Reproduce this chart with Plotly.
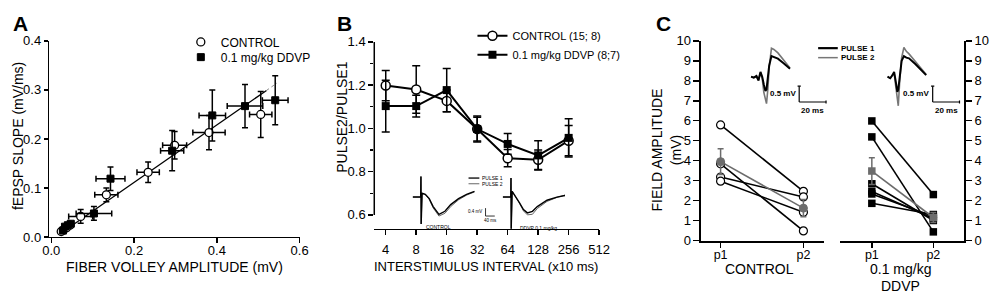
import math
import plotly.graph_objects as go

# ---------------- DATA ----------------
# Panel A : fEPSP slope vs fiber volley amplitude
A_CTRL_X = [0.024, 0.030, 0.037, 0.045, 0.071, 0.133, 0.234, 0.298, 0.381, 0.506]
A_CTRL_Y = [0.011, 0.015, 0.019, 0.024, 0.042, 0.086, 0.132, 0.187, 0.213, 0.250]
A_CTRL_XERR = [0.003, 0.004, 0.005, 0.006, 0.029, 0.028, 0.027, 0.029, 0.039, 0.027]
A_CTRL_YERR = [0.002, 0.003, 0.003, 0.004, 0.014, 0.014, 0.021, 0.028, 0.035, 0.047]
A_DDVP_X = [0.028, 0.033, 0.040, 0.047, 0.103, 0.143, 0.292, 0.389, 0.468, 0.541]
A_DDVP_Y = [0.013, 0.021, 0.024, 0.027, 0.048, 0.119, 0.176, 0.248, 0.267, 0.279]
A_DDVP_XERR = [0.003, 0.004, 0.005, 0.007, 0.043, 0.035, 0.028, 0.032, 0.043, 0.031]
A_DDVP_YERR = [0.002, 0.003, 0.004, 0.004, 0.014, 0.024, 0.041, 0.052, 0.044, 0.050]
A_FIT_X = [0.024, 0.520]          # solid part of the regression line
A_FIT_Y = [0.008, 0.299]
A_FIT_EXT_X = [0.520, 0.545]      # faint dashed end of the regression line
A_FIT_EXT_Y = [0.299, 0.314]
A_XTICKS = [0.0, 0.2, 0.4, 0.6]
A_YTICKS = [0.0, 0.1, 0.2, 0.3, 0.4]

# Panel B : paired-pulse ratio
B_ISI = [4, 8, 16, 32, 64, 128, 256]
B_CTRL = [1.198, 1.180, 1.127, 0.997, 0.862, 0.855, 0.943]
B_CTRL_ERR = [0.07, 0.11, 0.05, 0.055, 0.04, 0.045, 0.07]
B_DDVP = [1.103, 1.103, 1.177, 0.997, 0.928, 0.875, 0.956]
B_DDVP_ERR = [0.12, 0.05, 0.10, 0.06, 0.048, 0.068, 0.088]
B_XTICKS = [4, 8, 16, 32, 64, 128, 256, 512]
B_YTICKS = [0.6, 0.8, 1.0, 1.2, 1.4]
B_YMINOR = [0.7, 0.9, 1.1, 1.3]

# Panel B insets (time in ms, voltage in mV)
B_WAVE_CTRL_T = [0, 34, 35, 36, 40, 54, 71, 88, 113, 139, 164, 198, 233, 267]
B_WAVE_CTRL_P1 = [0, 0, 1.04, -1.36, 0.19, 0.14, -0.08, -0.48, -0.88, -0.72, -0.38, -0.08, 0.14, 0.29]
B_WAVE_CTRL_P2 = [0, 0, 1.04, -1.36, 0.19, 0.12, -0.12, -0.55, -0.96, -0.82, -0.48, -0.14, 0.10, 0.26]
B_WAVE_DDVP_T = [0, 34, 35, 36, 40, 57, 72, 89, 106, 128, 149, 191, 234, 269]
B_WAVE_DDVP_P1 = [0, 0, 0.96, -1.6, 0.29, 0, -0.29, -0.63, -0.80, -0.72, -0.48, -0.16, 0, 0.08]
B_WAVE_DDVP_P2 = [0, 0, 0.96, -1.6, 0.29, 0, -0.31, -0.70, -0.90, -0.87, -0.58, -0.22, -0.02, 0.10]
B_SCALE_MV = 0.4
B_SCALE_MS = 40

# Panel C : field amplitude p1 / p2
C_PULSES = ["p1", "p2"]
C_CTRL_SUBJ = [[5.79, 2.46], [3.84, 0.48], [3.18, 2.18], [2.97, 1.41]]
C_CTRL_MEAN = [3.95, 1.62]
C_CTRL_SEM = [0.64, 0.43]
C_DDVP_SUBJ = [[5.99, 2.30], [5.19, 0.43], [2.84, 1.00], [2.45, 1.10], [2.33, 1.20], [1.86, 1.30]]
C_DDVP_MEAN = [3.48, 1.15]
C_DDVP_SEM = [0.67, 0.25]
C_YTICKS = list(range(0, 11))

# Panel C insets (time in ms, voltage in mV)
C_WAVE_CTRL_T = [0, 2, 4, 5.5, 7, 8.3, 9.5, 10.7, 11.5, 12.5, 13.5, 15.2, 17, 20, 24, 29]
C_WAVE_CTRL_P1 = [0, -0.03, 0.02, -0.12, 0.15, 0.0, -0.25, -0.45, -0.40, -0.10, 0.35, 0.65, 0.62, 0.57, 0.43, 0.25]
C_WAVE_CTRL_P2 = [0, -0.03, 0.02, -0.12, 0.12, -0.05, -0.50, -0.78, -0.85, -0.40, 0.30, 0.90, 0.86, 0.75, 0.55, 0.27]
C_WAVE_DDVP_T = [0, 2, 3.7, 4.9, 6.1, 7.3, 8.0, 9.0, 10.5, 12.2, 14, 16, 20.7, 28.8]
C_WAVE_DDVP_P1 = [0, -0.05, 0.05, 0.15, -0.15, -0.48, -0.40, 0.0, 0.50, 0.65, 0.60, 0.58, 0.40, 0.05]
C_WAVE_DDVP_P2 = [0, -0.05, 0.05, 0.12, -0.30, -0.80, -0.92, -0.20, 0.60, 0.92, 0.80, 0.72, 0.48, 0.07]
C_SCALE_MV = 0.5
C_SCALE_MS = 20

# ---------------- STYLE / LAYOUT HELPERS ----------------
W, H = 1000, 302
FONT = "Liberation Sans, Arial, Helvetica, sans-serif"
GRAY = "#6c6c6c"


def fx(p):
    return p / W


def fy(p):
    return 1 - p / H


def axis_style(**kw):
    d = dict(showline=True, linecolor="black", linewidth=1.5, ticks="outside",
             ticklen=5, tickwidth=1.5, tickcolor="black", showgrid=False,
             zeroline=False, tickfont=dict(size=13, color="black", family=FONT),
             fixedrange=True)
    d.update(kw)
    return d


def hidden(domain, rng, anchor):
    return dict(visible=False, fixedrange=True, range=rng, domain=domain, anchor=anchor)


fig = go.Figure()

# ---------------- PANEL A ----------------
fig.add_trace(go.Scatter(x=A_FIT_X, y=A_FIT_Y, mode="lines",
                         line=dict(color="black", width=1.3),
                         showlegend=False, xaxis="x", yaxis="y", hoverinfo="skip"))
fig.add_trace(go.Scatter(x=A_FIT_EXT_X, y=A_FIT_EXT_Y, mode="lines",
                         line=dict(color="#888888", width=1, dash="dot"),
                         showlegend=False, xaxis="x", yaxis="y", hoverinfo="skip"))
fig.add_trace(go.Scatter(
    x=A_CTRL_X, y=A_CTRL_Y, mode="markers", name="CONTROL",
    marker=dict(symbol="circle", size=8, color="white", line=dict(color="black", width=1.3)),
    error_x=dict(type="data", array=A_CTRL_XERR, color="black", thickness=1.5, width=3),
    error_y=dict(type="data", array=A_CTRL_YERR, color="black", thickness=1.5, width=3),
    xaxis="x", yaxis="y", legend="legend", cliponaxis=False))
fig.add_trace(go.Scatter(
    x=A_DDVP_X, y=A_DDVP_Y, mode="markers", name="0.1 mg/kg DDVP",
    marker=dict(symbol="square", size=7, color="black", line=dict(color="black", width=1)),
    error_x=dict(type="data", array=A_DDVP_XERR, color="black", thickness=1.5, width=3),
    error_y=dict(type="data", array=A_DDVP_YERR, color="black", thickness=1.5, width=3),
    xaxis="x", yaxis="y", legend="legend3", cliponaxis=False))

# ---------------- PANEL B ----------------
fig.add_trace(go.Scatter(
    x=B_ISI, y=B_CTRL, mode="lines+markers", name="CONTROL (15; 8)",
    line=dict(color="black", width=2),
    marker=dict(symbol="circle", size=9, color="white", line=dict(color="black", width=1.5)),
    error_y=dict(type="data", array=B_CTRL_ERR, color="black", thickness=1.5, width=4),
    xaxis="x2", yaxis="y2", legend="legend2", cliponaxis=False))
fig.add_trace(go.Scatter(
    x=B_ISI, y=B_DDVP, mode="lines+markers", name="0.1 mg/kg DDVP (8;7)",
    line=dict(color="black", width=2),
    marker=dict(symbol="square", size=8, color="black"),
    error_y=dict(type="data", array=B_DDVP_ERR, color="black", thickness=1.5, width=4),
    xaxis="x2", yaxis="y2", legend="legend2", cliponaxis=False))

# B insets
for t, p1, p2, ax in [(B_WAVE_CTRL_T, B_WAVE_CTRL_P1, B_WAVE_CTRL_P2, "5"),
                      (B_WAVE_DDVP_T, B_WAVE_DDVP_P1, B_WAVE_DDVP_P2, "6")]:
    fig.add_trace(go.Scatter(x=t, y=p2, mode="lines", line=dict(color="#555555", width=0.9),
                             showlegend=False, xaxis="x" + ax, yaxis="y" + ax, hoverinfo="skip"))
    fig.add_trace(go.Scatter(x=t, y=p1, mode="lines", line=dict(color="black", width=1.4),
                             showlegend=False, xaxis="x" + ax, yaxis="y" + ax, hoverinfo="skip"))

# ---------------- PANEL C ----------------
for subj in C_CTRL_SUBJ:
    fig.add_trace(go.Scatter(
        x=C_PULSES, y=subj, mode="lines+markers", line=dict(color="black", width=1.6),
        marker=dict(symbol="circle", size=8, color="white", line=dict(color="black", width=1.2)),
        showlegend=False, xaxis="x3", yaxis="y3", cliponaxis=False))
fig.add_trace(go.Scatter(
    x=C_PULSES, y=C_CTRL_MEAN, mode="lines+markers", line=dict(color=GRAY, width=1.6),
    marker=dict(symbol="circle", size=8, color=GRAY, line=dict(color=GRAY, width=1)),
    error_y=dict(type="data", array=C_CTRL_SEM, color=GRAY, thickness=1.5, width=3),
    showlegend=False, xaxis="x3", yaxis="y3", cliponaxis=False))

for subj in C_DDVP_SUBJ:
    fig.add_trace(go.Scatter(
        x=C_PULSES, y=subj, mode="lines+markers", line=dict(color="black", width=1.6),
        marker=dict(symbol="square", size=7.5, color="black"),
        showlegend=False, xaxis="x4", yaxis="y4", cliponaxis=False))
fig.add_trace(go.Scatter(
    x=C_PULSES, y=C_DDVP_MEAN, mode="lines+markers", line=dict(color=GRAY, width=1.6),
    marker=dict(symbol="square", size=7.5, color=GRAY),
    error_y=dict(type="data", array=C_DDVP_SEM, color=GRAY, thickness=1.5, width=3),
    showlegend=False, xaxis="x4", yaxis="y4", cliponaxis=False))

# C insets
for t, p1, p2, ax in [(C_WAVE_CTRL_T, C_WAVE_CTRL_P1, C_WAVE_CTRL_P2, "7"),
                      (C_WAVE_DDVP_T, C_WAVE_DDVP_P1, C_WAVE_DDVP_P2, "8")]:
    fig.add_trace(go.Scatter(x=t, y=p2, mode="lines", line=dict(color="#777777", width=1.6),
                             showlegend=False, xaxis="x" + ax, yaxis="y" + ax, hoverinfo="skip"))
    fig.add_trace(go.Scatter(x=t, y=p1, mode="lines", line=dict(color="black", width=2),
                             showlegend=False, xaxis="x" + ax, yaxis="y" + ax, hoverinfo="skip"))

# ---------------- AXES ----------------
b_range = [math.log10(2 ** 1.624), math.log10(2 ** 9)]
c_tick = dict(size=12.5, color="black", family=FONT)
fig.update_layout(
    xaxis=axis_style(domain=[fx(43), fx(298)], range=[-0.005, 0.6], anchor="y",
                     tickvals=A_XTICKS, ticktext=[f"{v:.1f}" for v in A_XTICKS],
                     ticklabelstandoff=-4),
    yaxis=axis_style(domain=[fy(242), fy(35.7)], range=[0, 0.4], anchor="x", ticklen=4,
                     tickvals=A_YTICKS, ticktext=[f"{v:.1f}" for v in A_YTICKS]),
    xaxis2=axis_style(domain=[fx(374), fx(603)], type="log", range=b_range, anchor="y2",
                      tickvals=B_XTICKS, ticktext=[str(v) for v in B_XTICKS],
                      ticklabelstandoff=3),
    yaxis2=axis_style(domain=[fy(233.3), fy(36.7)], range=[0.536, 1.4], anchor="x2",
                      showline=False, tickvals=B_YTICKS,
                      ticktext=[f"{v:.1f}" for v in B_YTICKS],
                      minor=dict(tickmode="array", tickvals=B_YMINOR, ticks="outside",
                                 ticklen=3, tickwidth=1.2, tickcolor="black", showgrid=False)),
    xaxis3=axis_style(domain=[fx(706.7), fx(832)], type="category", range=[-0.237, 1.249],
                      anchor="y3", tickfont=c_tick, ticklabelstandoff=-4),
    yaxis3=axis_style(domain=[fy(246.7), fy(35.7)], range=[-0.05, 10], anchor="x3",
                      tickvals=C_YTICKS, ticklen=6),
    xaxis4=axis_style(domain=[fx(848), fx(975)], type="category", range=[-0.522, 1.506],
                      anchor="y4", tickfont=c_tick, ticklabelstandoff=-4),
    yaxis4=axis_style(domain=[fy(246.7), fy(35.7)], range=[-0.05, 10], anchor="x4",
                      side="right", tickvals=C_YTICKS, ticklen=6),
    # inset axes
    xaxis5=hidden([fx(405), fx(500)], [-35.3, 368.9], "y5"),
    yaxis5=hidden([fy(235), fy(175)], [-1.683, 1.202], "x5"),
    xaxis6=hidden([fx(500), fx(580)], [-21.3, 319.1], "y6"),
    yaxis6=hidden([fy(240), fy(175)], [-1.923, 1.202], "x6"),
    xaxis7=hidden([fx(750), fx(845)], [-5.63, 63.86], "y7"),
    yaxis7=hidden([fy(112), fy(35)], [-1.162, 1.150], "x7"),
    xaxis8=hidden([fx(890), fx(980)], [-4.9, 61.0], "y8"),
    yaxis8=hidden([fy(112), fy(35)], [-1.162, 1.150], "x8"),
)

# ---------------- SHAPES (axis line B, scale bars, mini legend keys) ----------------
shapes = []
shapes.append(dict(type="line", xref="x2 domain", yref="y2", x0=0, x1=0,
                   y0=B_YTICKS[0], y1=B_YTICKS[-1], line=dict(color="black", width=1.5)))


def scale_bar(ax, t0, v0, dmv, dms, capx, capy, w):
    xr, yr = "x" + ax, "y" + ax
    ln = dict(color="black", width=w)
    return [
        dict(type="line", xref=xr, yref=yr, x0=t0, x1=t0, y0=v0, y1=v0 + dmv, line=ln),
        dict(type="line", xref=xr, yref=yr, x0=t0, x1=t0 + dms, y0=v0, y1=v0, line=ln),
        dict(type="line", xref=xr, yref=yr, x0=t0 - capx, x1=t0 + capx, y0=v0 + dmv, y1=v0 + dmv, line=ln),
        dict(type="line", xref=xr, yref=yr, x0=t0 + dms, x1=t0 + dms, y0=v0 - capy, y1=v0 + capy, line=ln),
    ]


shapes += scale_bar("5", 314.9, -0.96, B_SCALE_MV, B_SCALE_MS, 0, 0, 0.8)
shapes += scale_bar("7", 35.85, -0.8, C_SCALE_MV, C_SCALE_MS, 1.2, 0.05, 1.2)
shapes += scale_bar("8", 33.65, -0.8, C_SCALE_MV, C_SCALE_MS, 1.2, 0.05, 1.2)

# legend keys for C traces and B inset traces
shapes.append(dict(type="line", xref="paper", yref="paper", x0=fx(826), x1=fx(846),
                   y0=fy(43.3), y1=fy(43.3), line=dict(color="black", width=2.2)))
shapes.append(dict(type="line", xref="paper", yref="paper", x0=fx(826), x1=fx(846),
                   y0=fy(53.3), y1=fy(53.3), line=dict(color="#777777", width=1.5)))
shapes.append(dict(type="line", xref="paper", yref="paper", x0=fx(470), x1=fx(481),
                   y0=fy(180), y1=fy(180), line=dict(color="black", width=1.3)))
shapes.append(dict(type="line", xref="paper", yref="paper", x0=fx(470), x1=fx(481),
                   y0=fy(186), y1=fy(186), line=dict(color="#555555", width=0.9)))


# ---------------- ANNOTATIONS ----------------
def ann(text, x, y, size, xanchor="center", yanchor="middle", angle=0, bold=False,
        color="black"):
    t = f"<b>{text}</b>" if bold else text
    return dict(text=t, x=x, y=y, xref="paper", yref="paper", xanchor=xanchor, yanchor=yanchor,
                textangle=angle, showarrow=False, font=dict(size=size, color=color, family=FONT))


annotations = [
    ann("A", fx(4), fy(3), 21, "left", "top", bold=True),
    ann("B", fx(334), fy(3), 21, "left", "top", bold=True),
    ann("C", fx(659), fy(3), 21, "left", "top", bold=True),
    ann("FIBER VOLLEY AMPLITUDE (mV)", fx(170.5), fy(273.5), 14),
    ann("fEPSP SLOPE (mV/ms)", fx(11), fy(136), 14, angle=-90),
    ann("PULSE2/PULSE1", fx(341.7), fy(116), 14, angle=-90),
    ann("INTERSTIMULUS INTERVAL (x10 ms)", fx(488), fy(273), 13),
    ann("FIELD AMPLITUDE<br>(mV)", fx(671), fy(150), 14, angle=-90),
    ann("CONTROL", fx(766.7), fy(276), 14),
    ann("0.1 mg/kg", fx(909.5), fy(276), 14),
    ann("DDVP", fx(909.5), fy(293.5), 14),
    # B insets
    ann("CONTROL", fx(439), fy(232), 5),
    ann("DDVP 0.1 mg/kg", fx(541), fy(232.7), 5),
    ann("PULSE 1", fx(482), fy(180), 5, "left"),
    ann("PULSE 2", fx(482), fy(186), 5, "left"),
    ann(f"{B_SCALE_MV} mV", fx(486), fy(215.5), 4.5, "right"),
    ann(f"{B_SCALE_MS} ms", fx(492), fy(224.5), 4.5),
    # C insets
    ann("PULSE 1", fx(847.5), fy(43.3), 8, "left", bold=True),
    ann("PULSE 2", fx(847.5), fy(53.3), 8, "left", bold=True),
    ann(f"{C_SCALE_MV} mV", fx(805), fy(91.5), 8, "right", bold=True),
    ann(f"{C_SCALE_MS} ms", fx(820.5), fy(108.5), 8, bold=True),
    ann(f"{C_SCALE_MV} mV", fx(941), fy(91.5), 8, "right", bold=True),
    ann(f"{C_SCALE_MS} ms", fx(956.5), fy(108.5), 8, bold=True),
]

leg_common = dict(xanchor="left", yanchor="top", bgcolor="rgba(0,0,0,0)",
                  itemwidth=30, tracegroupgap=0)
fig.update_layout(
    width=W, height=H, margin=dict(l=0, r=0, t=0, b=0),
    paper_bgcolor="white", plot_bgcolor="rgba(0,0,0,0)",
    font=dict(family=FONT, color="black"),
    shapes=shapes, annotations=annotations,
    legend=dict(x=fx(177), y=fy(21.5), font=dict(size=12, color="black", family=FONT),
                **leg_common),
    legend3=dict(x=fx(177), y=fy(37.5), font=dict(size=12, color="black", family=FONT),
                 **leg_common),
    legend2=dict(x=fx(474), y=fy(15), font=dict(size=11, color="black", family=FONT),
                 **leg_common),
)

fig.write_html("out.html", config={"displayModeBar": False, "staticPlot": True},
               post_script="document.body.style.margin='0px';document.body.style.padding='0px';"
                           "document.body.style.overflow='hidden';")
